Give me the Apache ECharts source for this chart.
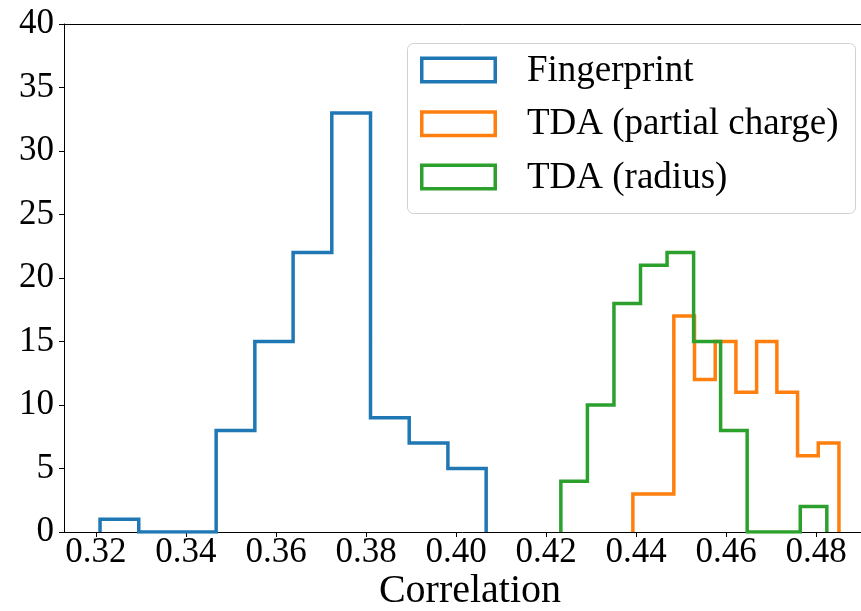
<!DOCTYPE html>
<html>
<head>
<meta charset="utf-8">
<script src="https://cdn.jsdelivr.net/npm/echarts@6/dist/echarts.min.js"></script>
<style>html,body{margin:0;padding:0;background:#fff;overflow:hidden}#c{width:861px;height:611px}</style>
</head>
<body>
<div id="c"></div>
<script>
// Histogram bin edges and counts
const seriesNames = ['Fingerprint', 'TDA (partial charge)', 'TDA (radius)'];
const fingerprintEdges = [0.3209, 0.3295, 0.3381, 0.3467, 0.3553, 0.3638, 0.3724, 0.3810, 0.3896, 0.3982, 0.4067];
const fingerprintCounts = [1, 0, 0, 8, 15, 22, 33, 9, 7, 5];
const chargeEdges = [0.4393, 0.4439, 0.4484, 0.4530, 0.4576, 0.4622, 0.4668, 0.4713, 0.4759, 0.4805, 0.4851];
const chargeCounts = [3, 3, 17, 12, 15, 11, 15, 11, 6, 7];
const radiusEdges = [0.4233, 0.4292, 0.4351, 0.4410, 0.4469, 0.4528, 0.4588, 0.4647, 0.4706, 0.4765, 0.4824];
const radiusCounts = [4, 10, 18, 21, 22, 15, 8, 0, 0, 2];
const xTicks = [0.32, 0.34, 0.36, 0.38, 0.40, 0.42, 0.44, 0.46, 0.48];
const colors = ['#1f77b4', '#ff7f0e', '#2ca02c'];

function stepData(edges, counts) {
  const pts = [[edges[0], 0]];
  for (let i = 0; i < counts.length; i++) pts.push([edges[i], counts[i]]);
  pts.push([edges[edges.length - 1], 0]);
  return pts;
}

const FONT = 'Liberation Serif';
const chart = echarts.init(document.getElementById('c'), null, {renderer: 'canvas', width: 861, height: 611});
const mk = (name, edges, counts, color) => ({
  name: name, type: 'line', step: 'end', data: stepData(edges, counts),
  showSymbol: false, symbol: 'none', animation: false,
  lineStyle: {color: color, width: 3.5, join: 'miter'}, itemStyle: {color: color},
  xAxisIndex: 0, yAxisIndex: 0
});

chart.setOption({
  animation: false,
  grid: {left: 64, right: -15, top: 24, bottom: 79, containLabel: false, outerBoundsMode: 'none'},
  xAxis: [{
    type: 'value', min: 0.31289, max: 0.49333, position: 'bottom',
    name: 'Correlation', nameLocation: 'middle', nameGap: 39,
    nameTextStyle: {fontFamily: FONT, fontSize: 40, color: '#000'},
    axisLine: {show: true, lineStyle: {color: '#000', width: 1}},
    axisTick: {show: true, inside: false, length: 5, customValues: xTicks, lineStyle: {color: '#000'}},
    axisLabel: {show: false},
    splitLine: {show: false}
  }, {
    type: 'value', min: 0.31289, max: 0.49333, position: 'top',
    axisLine: {show: true, onZero: false, lineStyle: {color: '#000', width: 1}},
    axisTick: {show: false}, axisLabel: {show: false}, splitLine: {show: false}
  }],
  yAxis: {
    type: 'value', min: 0, max: 40, interval: 5,
    axisLine: {show: true, lineStyle: {color: '#000', width: 1}},
    axisTick: {show: true, length: 5, lineStyle: {color: '#000'}},
    axisLabel: {fontFamily: FONT, fontSize: 35, color: '#000', margin: 10},
    splitLine: {show: false}
  },
  series: [
    mk(seriesNames[0], fingerprintEdges, fingerprintCounts, colors[0]),
    mk(seriesNames[1], chargeEdges, chargeCounts, colors[1]),
    mk(seriesNames[2], radiusEdges, radiusCounts, colors[2])
  ]
});

// x tick labels placed through the axis scale
const gfx = [];
const axisY = chart.convertToPixel({yAxisIndex: 0}, 0);
xTicks.forEach(v => {
  const px = chart.convertToPixel({xAxisIndex: 0}, v);
  gfx.push({type: 'text', x: px, y: axisY + 21, z: 100, silent: true,
    style: {text: v.toFixed(2), font: '35px Liberation Serif', fill: '#000',
      align: 'center', verticalAlign: 'middle', textAlign: 'center', textVerticalAlign: 'middle'}});
});

// legend box
const LX = 407, LY = 43, LW = 448, LH = 170;
gfx.push({type: 'rect', z: 100, silent: true, shape: {x: LX + 0.5, y: LY + 0.5, width: LW, height: LH, r: 6},
  style: {fill: 'rgba(255,255,255,0.8)', stroke: '#d0d0d0', lineWidth: 1}});
const rowCenters = [70, 123.7, 177];
seriesNames.forEach((n, i) => {
  const cy = rowCenters[i];
  gfx.push({type: 'rect', z: 101, silent: true,
    shape: {x: 421.75, y: cy - 11.75, width: 73.5, height: 23.5},
    style: {fill: '#fff', stroke: colors[i], lineWidth: 3.5}});
  gfx.push({type: 'text', z: 101, silent: true, x: 527, y: cy + 1,
    style: {text: n, font: '37px Liberation Serif', fill: '#000',
      align: 'left', verticalAlign: 'middle', textAlign: 'left', textVerticalAlign: 'middle'}});
});
chart.setOption({graphic: gfx});
</script>
</body>
</html>
